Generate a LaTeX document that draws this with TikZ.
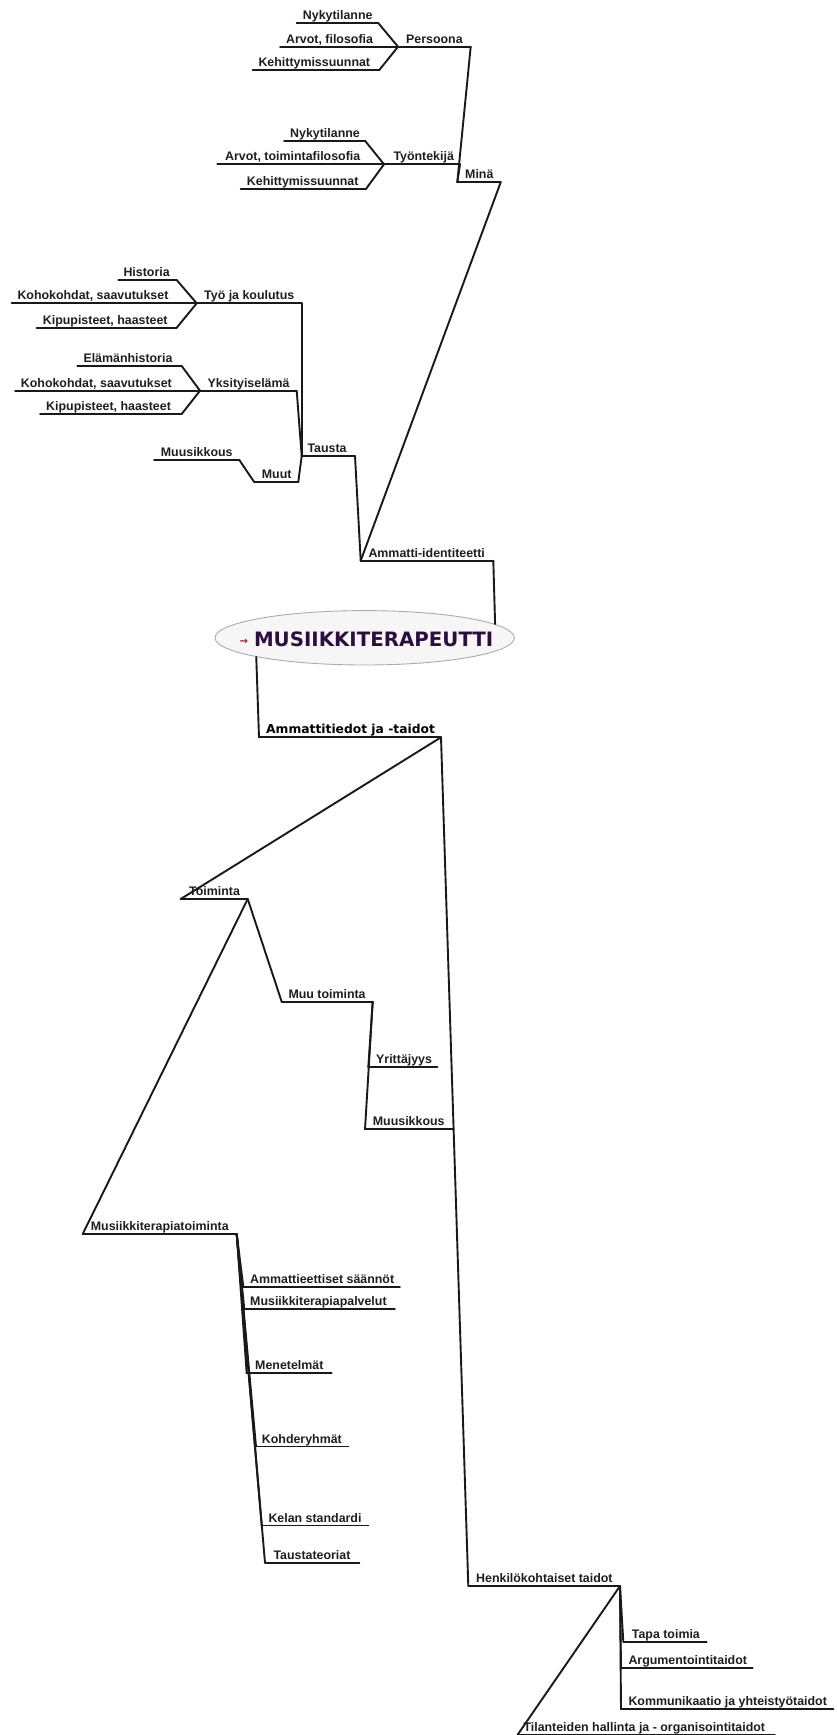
\documentclass[tikz,border=0pt]{standalone}
\usepackage{fontspec}
\setmainfont{Liberation Sans}
\newfontfamily\djv{DejaVu Sans}
\usetikzlibrary{shapes.geometric}
\definecolor{txtc}{RGB}{30,30,30}
\definecolor{titlec}{RGB}{45,12,65}
\definecolor{arrc}{RGB}{170,20,20}
\tikzset{
 ln/.style={line width=1.9pt, line cap=round, line join=round, draw=black!90},
 lbl/.style={font=\fontsize{12.4}{14}\selectfont\bfseries, text=txtc, inner sep=0pt, anchor=base west},
}
\newcommand\mmnode[6]{%
 \coordinate (#1-L) at (#2,#4);
 \coordinate (#1-R) at (#3,#4);
 \node[lbl] (#1) at (#5,{#4-3.5}) {#6};
 \draw[ln] (#1-L) -- (#1-R);
}
\begin{document}
\begin{tikzpicture}[x=1pt,y=-1pt]
\fill[white] (0,0) rectangle (837,1735);
\useasboundingbox (0,0) rectangle (837,1735);

% ---------- root ----------
\node[ellipse, draw=gray!65, fill=gray!7, line width=0.9pt, minimum width=299.4pt, minimum height=54.4pt, inner sep=0pt] (root) at (364.7,637.8) {};
\node[inner sep=0pt, text=titlec, font=\djv\bfseries\fontsize{19.8}{22}\selectfont] (title) at (366.5,639.5)
 {\raisebox{2pt}{\textcolor{arrc}{\fontsize{10}{10}\selectfont →}}\hspace{6pt}MUSIIKKITERAPEUTTI};

% ---------- Minä branch ----------
\mmnode{nyk1}{296.7}{378}{22.7}{302.7}{Nykytilanne}
\mmnode{arv1}{280}{398}{46.7}{286}{Arvot, filosofia}
\mmnode{keh1}{252.7}{379.3}{70}{258.3}{Kehittymissuunnat}
\mmnode{pers}{398}{470.7}{46.7}{406}{Persoona}
\mmnode{nyk2}{284}{365}{140.7}{290}{Nykytilanne}
\mmnode{arv2}{217.3}{384}{164.3}{225}{Arvot, toimintafilosofia}
\mmnode{keh2}{240.7}{365.7}{189.3}{246.7}{Kehittymissuunnat}
\mmnode{tyont}{384}{460}{164.3}{393.3}{Työntekijä}
\mmnode{mina}{457.3}{500.7}{182.3}{465}{Minä}

\draw[ln] (nyk1-R) -- (pers-L);
\draw[ln] (keh1-R) -- (pers-L);
\draw[ln] (nyk2-R) -- (tyont-L);
\draw[ln] (keh2-R) -- (tyont-L);
\draw[ln] (pers-R) -- (mina-L);
\draw[ln] (tyont-R) -- (mina-L);

% ---------- Tausta branch ----------
\mmnode{hist}{118.3}{176.7}{280}{123.3}{Historia}
\mmnode{koh1}{11.7}{196.7}{303.3}{17.3}{Kohokohdat, saavutukset}
\mmnode{kip1}{36.7}{176.7}{327.7}{42.7}{Kipupisteet, haasteet}
\mmnode{tyo}{196.7}{301.7}{303.3}{204}{Työ ja koulutus}
\mmnode{elam}{77.3}{181.7}{366}{83.3}{Elämänhistoria}
\mmnode{koh2}{15}{200}{390.7}{20.7}{Kohokohdat, saavutukset}
\mmnode{kip2}{40}{181.7}{414}{46}{Kipupisteet, haasteet}
\mmnode{yks}{200}{296.7}{390.7}{207.3}{Yksityiselämä}
\mmnode{muus1}{154}{239.3}{460}{160.7}{Muusikkous}
\mmnode{muut}{254}{298.3}{481.7}{261.7}{Muut}
\mmnode{taus}{301.7}{355}{456}{307.3}{Tausta}
\mmnode{ammid}{360.7}{493.3}{560.7}{368.3}{Ammatti-identiteetti}

\draw[ln] (hist-R) -- (tyo-L);
\draw[ln] (kip1-R) -- (tyo-L);
\draw[ln] (elam-R) -- (yks-L);
\draw[ln] (kip2-R) -- (yks-L);
\draw[ln] (muus1-R) -- (muut-L);
\draw[ln] (tyo-R) -- (taus-L);
\draw[ln] (yks-R) -- (taus-L);
\draw[ln] (muut-R) -- (taus-L);
\draw[ln] (taus-R) -- (ammid-L);
\draw[ln] (mina-R) -- (ammid-L);
\draw[ln] (ammid-R) -- (root.6.5);

% ---------- Ammattitiedot branch ----------
\coordinate (ammtt-L) at (259,737.3);
\coordinate (ammtt-R) at (441,737.3);
\node[inner sep=0pt, anchor=base west, text=black, font=\djv\bfseries\fontsize{12.3}{14}\selectfont] (ammtt) at (266,733.8) {Ammattitiedot ja -taidot};
\draw[ln] (ammtt-L) -- (ammtt-R);
\draw[ln] (root.190.3) -- (ammtt-L);

\mmnode{toim}{180.7}{247.7}{899}{189}{Toiminta}
\mmnode{muutoim}{281.7}{372.7}{1001.7}{288.3}{Muu toiminta}
\mmnode{yrit}{368.3}{437.3}{1067.3}{376}{Yrittäjyys}
\mmnode{muus2}{365}{452.7}{1129.3}{372.7}{Muusikkous}
\mmnode{mtt}{82.7}{236.7}{1234}{90.7}{Musiikkiterapiatoiminta}
\mmnode{aes}{243.3}{400}{1286.7}{250}{Ammattieettiset säännöt}
\mmnode{mtp}{244.3}{395}{1309.3}{250}{Musiikkiterapiapalvelut}
\mmnode{men}{246.7}{331.7}{1373.3}{255}{Menetelmät}
\mmnode{koh}{256}{348.3}{1446.5}{261.7}{Kohderyhmät}
\mmnode{kel}{261.7}{368.3}{1525.5}{268.3}{Kelan standardi}
\mmnode{tt}{265}{359.3}{1562.7}{273.3}{Taustateoriat}
\mmnode{henk}{468.3}{620}{1586}{476}{Henkilökohtaiset taidot}
\mmnode{tapa}{623.3}{706.7}{1641.7}{631.7}{Tapa toimia}
\mmnode{arg}{621}{752.7}{1667.7}{628.3}{Argumentointitaidot}
\mmnode{komm}{621}{833.3}{1709}{628.3}{Kommunikaatio ja yhteistyötaidot}
\mmnode{til}{517.7}{775}{1734.6}{523.3}{Tilanteiden hallinta ja - organisointitaidot}

\draw[ln] (ammtt-R) -- (toim-L);
\draw[ln] (ammtt-R) -- (henk-L);
\draw[ln] (toim-R) -- (muutoim-L);
\draw[ln] (toim-R) -- (mtt-L);
\draw[ln] (muutoim-R) -- (yrit-L);
\draw[ln] (muutoim-R) -- (muus2-L);
\draw[ln] (mtt-R) -- (aes-L);
\draw[ln] (mtt-R) -- (mtp-L);
\draw[ln] (mtt-R) -- (men-L);
\draw[ln] (mtt-R) -- (koh-L);
\draw[ln] (mtt-R) -- (kel-L);
\draw[ln] (mtt-R) -- (tt-L);
\draw[ln] (henk-R) -- (tapa-L);
\draw[ln] (henk-R) -- (arg-L);
\draw[ln] (henk-R) -- (komm-L);
\draw[ln] (henk-R) -- (til-L);
\end{tikzpicture}
\end{document}
